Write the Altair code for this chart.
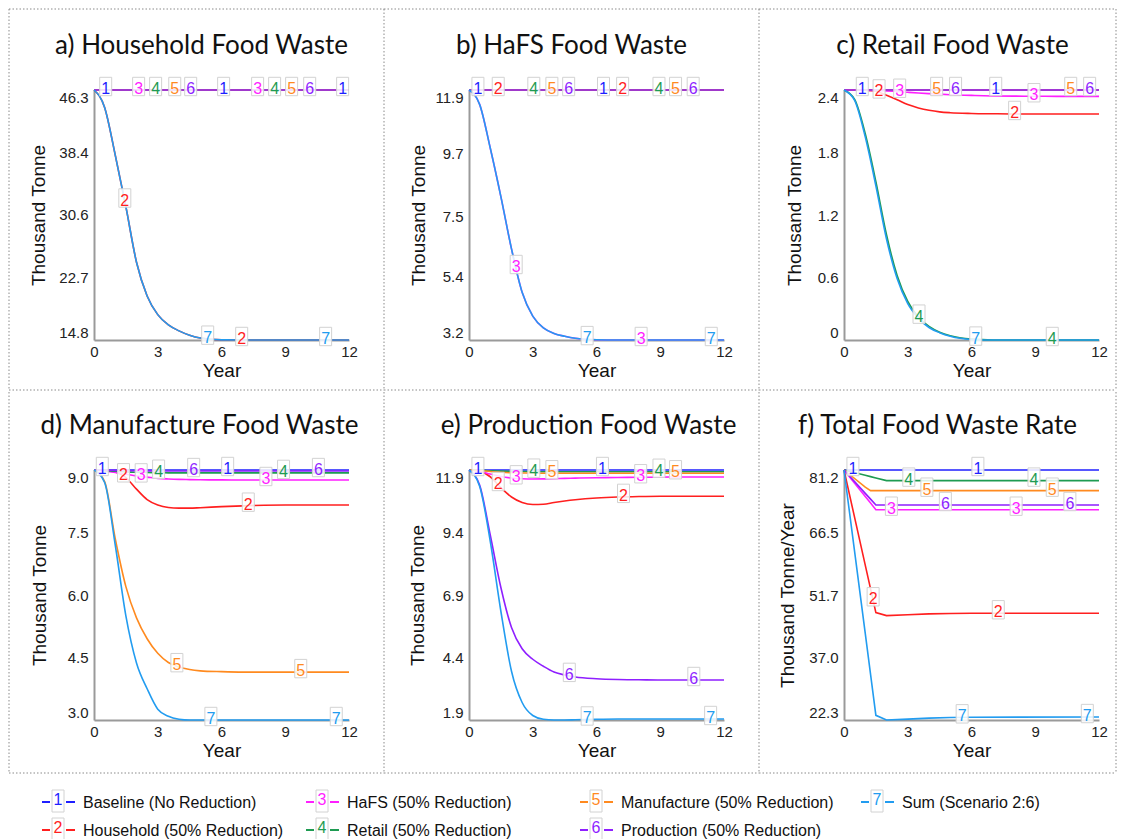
import altair as alt
import numpy as np
import pandas as pd

# ---------------- data ----------------
YEARS = [0, 0.5, 1, 1.5, 2, 2.5, 3, 3.5, 4, 4.5, 5, 6, 7, 8, 9, 10, 11, 12]
RATE_YEARS = [0, 1, 1.25, 1.5, 2, 3, 4, 5, 6, 12]

SCENARIOS = ["Baseline (No Reduction)", "Household (50% Reduction)", "HaFS (50% Reduction)",
             "Retail (50% Reduction)", "Manufacture (50% Reduction)", "Production  (50% Reduction)",
             "Sum (Scenario 2:6)"]
NUMBERS = ["1", "2", "3", "4", "5", "6", "7"]
COLORS = ["#1f1fff", "#ff1f1f", "#ff1fff", "#1e9b52", "#ff8a1f", "#8f1fff", "#229cf0"]

# a) Household food waste (thousand tonne)
A1 = [46.3, 46.3, 46.3, 46.3, 46.3, 46.3, 46.3, 46.3, 46.3, 46.3, 46.3, 46.3, 46.3, 46.3, 46.3, 46.3, 46.3, 46.3]
A2 = [46.3, 44.1, 38.1, 31.6, 24.6, 20.35, 18.0, 16.7, 15.95, 15.4, 15.05, 14.82, 14.8, 14.8, 14.8, 14.8, 14.8, 14.8]
A3 = [46.3, 46.3, 46.3, 46.3, 46.3, 46.3, 46.3, 46.3, 46.3, 46.3, 46.3, 46.3, 46.3, 46.3, 46.3, 46.3, 46.3, 46.3]
A4 = [46.3, 46.3, 46.3, 46.3, 46.3, 46.3, 46.3, 46.3, 46.3, 46.3, 46.3, 46.3, 46.3, 46.3, 46.3, 46.3, 46.3, 46.3]
A5 = [46.3, 46.3, 46.3, 46.3, 46.3, 46.3, 46.3, 46.3, 46.3, 46.3, 46.3, 46.3, 46.3, 46.3, 46.3, 46.3, 46.3, 46.3]
A6 = [46.3, 46.3, 46.3, 46.3, 46.3, 46.3, 46.3, 46.3, 46.3, 46.3, 46.3, 46.3, 46.3, 46.3, 46.3, 46.3, 46.3, 46.3]
A7 = [46.3, 44.1, 38.1, 31.6, 24.6, 20.35, 18.0, 16.7, 15.95, 15.4, 15.05, 14.82, 14.8, 14.8, 14.8, 14.8, 14.8, 14.8]

# b) HaFS food waste
B1 = [11.9, 11.9, 11.9, 11.9, 11.9, 11.9, 11.9, 11.9, 11.9, 11.9, 11.9, 11.9, 11.9, 11.9, 11.9, 11.9, 11.9, 11.9]
B2 = [11.9, 11.9, 11.9, 11.9, 11.9, 11.9, 11.9, 11.9, 11.9, 11.9, 11.9, 11.9, 11.9, 11.9, 11.9, 11.9, 11.9, 11.9]
B3 = [11.9, 11.4, 9.88, 8.19, 6.37, 4.86, 4.03, 3.62, 3.43, 3.33, 3.26, 3.21, 3.2, 3.2, 3.2, 3.2, 3.2, 3.2]
B4 = [11.9, 11.9, 11.9, 11.9, 11.9, 11.9, 11.9, 11.9, 11.9, 11.9, 11.9, 11.9, 11.9, 11.9, 11.9, 11.9, 11.9, 11.9]
B5 = [11.9, 11.9, 11.9, 11.9, 11.9, 11.9, 11.9, 11.9, 11.9, 11.9, 11.9, 11.9, 11.9, 11.9, 11.9, 11.9, 11.9, 11.9]
B6 = [11.9, 11.9, 11.9, 11.9, 11.9, 11.9, 11.9, 11.9, 11.9, 11.9, 11.9, 11.9, 11.9, 11.9, 11.9, 11.9, 11.9, 11.9]
B7 = [11.9, 11.4, 9.88, 8.19, 6.37, 4.86, 4.03, 3.62, 3.43, 3.33, 3.26, 3.21, 3.2, 3.2, 3.2, 3.2, 3.2, 3.2]

# c) Retail food waste
C1 = [2.4, 2.4, 2.4, 2.4, 2.4, 2.4, 2.4, 2.4, 2.4, 2.4, 2.4, 2.4, 2.4, 2.4, 2.4, 2.4, 2.4, 2.4]
C2 = [2.4, 2.4, 2.397, 2.388, 2.35, 2.307, 2.26, 2.228, 2.205, 2.19, 2.182, 2.175, 2.172, 2.17, 2.17, 2.17, 2.17, 2.17]
C3 = [2.4, 2.4, 2.398, 2.394, 2.39, 2.385, 2.378, 2.371, 2.365, 2.36, 2.355, 2.348, 2.343, 2.341, 2.34, 2.339, 2.339, 2.339]
C4 = [2.4, 2.31, 1.98, 1.52, 1.01, 0.62, 0.37, 0.22, 0.13, 0.075, 0.04, 0.008, 0.0, 0.0, 0.0, 0.0, 0.0, 0.0]
C5 = [2.4, 2.4, 2.4, 2.4, 2.4, 2.4, 2.4, 2.4, 2.4, 2.4, 2.4, 2.4, 2.4, 2.4, 2.4, 2.4, 2.4, 2.4]
C6 = [2.4, 2.4, 2.4, 2.4, 2.4, 2.4, 2.4, 2.4, 2.4, 2.4, 2.4, 2.4, 2.4, 2.4, 2.4, 2.4, 2.4, 2.4]
C7 = [2.4, 2.30, 1.95, 1.48, 0.97, 0.59, 0.35, 0.21, 0.12, 0.07, 0.035, 0.005, 0.0, 0.0, 0.0, 0.0, 0.0, 0.0]

# d) Manufacture food waste
D1 = [9.0, 9.0, 9.0, 9.0, 9.0, 9.0, 9.0, 9.0, 9.0, 9.0, 9.0, 9.0, 9.0, 9.0, 9.0, 9.0, 9.0, 9.0]
D2 = [9.0, 8.99, 8.95, 8.82, 8.54, 8.29, 8.16, 8.10, 8.085, 8.085, 8.095, 8.12, 8.14, 8.155, 8.16, 8.16, 8.16, 8.16]
D3 = [9.0, 8.98, 8.94, 8.9, 8.86, 8.83, 8.8, 8.785, 8.775, 8.77, 8.765, 8.762, 8.76, 8.76, 8.76, 8.76, 8.76, 8.76]
D4 = [9.0, 8.99, 8.97, 8.955, 8.945, 8.94, 8.935, 8.932, 8.93, 8.93, 8.93, 8.93, 8.93, 8.93, 8.93, 8.93, 8.93, 8.93]
D5 = [9.0, 8.72, 7.35, 6.2, 5.45, 4.95, 4.6, 4.38, 4.27, 4.21, 4.18, 4.16, 4.15, 4.15, 4.15, 4.15, 4.15, 4.15]
D6 = [9.0, 8.995, 8.99, 8.985, 8.98, 8.978, 8.976, 8.975, 8.975, 8.975, 8.975, 8.975, 8.975, 8.975, 8.975, 8.975, 8.975, 8.975]
D7 = [9.0, 8.7, 7.2, 5.5, 4.37, 3.75, 3.26, 3.09, 3.02, 3.0, 3.0, 3.0, 3.0, 3.0, 3.0, 3.0, 3.0, 3.0]

# e) Production food waste
E1 = [11.9, 11.9, 11.9, 11.9, 11.9, 11.9, 11.9, 11.9, 11.9, 11.9, 11.9, 11.9, 11.9, 11.9, 11.9, 11.9, 11.9, 11.9]
E2 = [11.9, 11.85, 11.63, 11.19, 10.82, 10.6, 10.52, 10.53, 10.6, 10.66, 10.71, 10.78, 10.82, 10.84, 10.85, 10.85, 10.85, 10.85]
E3 = [11.9, 11.85, 11.74, 11.64, 11.58, 11.55, 11.54, 11.545, 11.555, 11.565, 11.575, 11.59, 11.6, 11.61, 11.615, 11.62, 11.62, 11.62]
E4 = [11.9, 11.89, 11.87, 11.855, 11.845, 11.84, 11.835, 11.83, 11.83, 11.83, 11.83, 11.83, 11.83, 11.83, 11.83, 11.83, 11.83, 11.83]
E5 = [11.9, 11.88, 11.84, 11.81, 11.79, 11.78, 11.775, 11.77, 11.77, 11.77, 11.77, 11.77, 11.77, 11.77, 11.77, 11.77, 11.77, 11.77]
E6 = [11.9, 11.3, 9.3, 7.2, 5.6, 4.75, 4.33, 4.05, 3.82, 3.7, 3.62, 3.55, 3.52, 3.51, 3.5, 3.5, 3.5, 3.5]
E7 = [11.9, 11.25, 9.05, 6.25, 3.85, 2.6, 2.08, 1.93, 1.9, 1.9, 1.91, 1.93, 1.94, 1.94, 1.94, 1.94, 1.94, 1.94]

# f) Total food waste rate (thousand tonne / year), on RATE_YEARS
F1 = [81.2, 81.2, 81.2, 81.2, 81.2, 81.2, 81.2, 81.2, 81.2, 81.2]
F2 = [81.2, 58.8, 53.2, 47.6, 46.9, 47.1, 47.3, 47.4, 47.45, 47.45]
F3 = [81.2, 74.97, 73.41, 71.85, 71.85, 71.85, 71.85, 71.85, 71.85, 71.85]
F4 = [81.2, 79.95, 79.64, 79.32, 78.7, 78.7, 78.7, 78.7, 78.7, 78.7]
F5 = [81.2, 77.15, 76.33, 76.33, 76.33, 76.33, 76.33, 76.33, 76.33, 76.33]
F6 = [81.2, 75.7, 74.33, 72.95, 72.95, 72.95, 72.95, 72.95, 72.95, 72.95]
F7 = [81.2, 42.7, 33.05, 23.4, 22.3, 22.5, 22.75, 22.9, 22.95, 23.0]

# years at which the numbered line labels sit (series 1..7)
A_LABELS = [[0.55, 6.1, 11.7], [1.45, 6.95], [2.1, 7.7], [2.9, 8.5], [3.8, 9.3], [4.55, 10.15], [5.35, 10.9]]
B_LABELS = [[0.42, 6.33], [1.375, 7.23], [2.22, 8.1], [3.05, 8.94], [3.9, 9.72], [4.69, 10.55], [5.56, 11.4]]
C_LABELS = [[0.86, 7.14], [1.65, 8.03], [2.62, 8.94], [3.53, 9.8], [4.36, 10.67], [5.25, 11.56], [6.2]]
D_LABELS = [[0.39, 6.29], [1.39, 7.26], [2.22, 8.09], [3.04, 8.92], [3.9, 9.73], [4.69, 10.56], [5.5, 11.4]]
E_LABELS = [[0.42, 6.28], [1.375, 7.27], [2.22, 8.08], [3.05, 8.94], [3.9, 9.72], [4.72, 10.58], [5.56, 11.37]]
F_LABELS = [[0.42, 6.3], [1.37, 7.26], [2.23, 8.1], [3.05, 8.94], [3.9, 9.8], [4.77, 10.63], [5.56, 11.45]]

X_TICKS = [0, 3, 6, 9, 12]
A_TICKS = [14.8, 22.7, 30.6, 38.4, 46.3]
B_TICKS = [3.2, 5.4, 7.5, 9.7, 11.9]
C_TICKS = [0, 0.6, 1.2, 1.8, 2.4]
D_TICKS = [3.0, 4.5, 6.0, 7.5, 9.0]
E_TICKS = [1.9, 4.4, 6.9, 9.4, 11.9]
F_TICKS = [22.3, 37.0, 51.7, 66.5, 81.2]

# ---------------- styling ----------------
W, H = 255, 250
AXIS_FONT = "Liberation Sans"
BORDER = dict(color="#8a8a8a", strokeWidth=1, strokeDash=[1.5, 2])
BOX_PATH = "M-6,-12.7L6,-12.7L6,5.7L-6,5.7Z"
ONE = pd.DataFrame({"k": [0]})
LABEL_EXPR = "datum.value == 0 ? '0' : format(datum.value, '.1f')"
NO_VIEW = alt.ViewBackground(stroke="transparent", strokeWidth=0, fill="transparent")

color_enc = alt.Color("num:N", scale=alt.Scale(domain=NUMBERS, range=COLORS), legend=None)


def vline(x, y1, y2):
    return alt.Chart(ONE).mark_rule(**BORDER).encode(
        x=alt.value(x), y=alt.value(y1), y2=alt.value(y2))


def hline(x1, x2, y):
    return alt.Chart(ONE).mark_rule(**BORDER).encode(
        x=alt.value(x1), x2=alt.value(x2), y=alt.value(y))


def panel(title, years, series, label_years, ticks, ytitle, interp, title_dx, ytitle_x, borders):
    recs = []
    for num, vals in zip(NUMBERS, series):
        for t, v in zip(years, vals):
            recs.append({"year": t, "value": v, "num": num})
    lines_df = pd.DataFrame(recs)
    labs = []
    for num, vals, lys in zip(NUMBERS, series, label_years):
        for t in lys:
            labs.append({"year": t, "value": float(np.interp(t, years, vals)), "num": num})
    labels_df = pd.DataFrame(labs)

    x = alt.X("year:Q", scale=alt.Scale(domain=[0, 12], nice=False, zero=False),
              axis=alt.Axis(values=X_TICKS, title="Year", grid=False, ticks=False, labelFlush=False,
                            domainColor="#9a9a9a", domainWidth=2,
                            labelFont=AXIS_FONT, labelFontSize=15, labelColor="#222",
                            labelPadding=4, titleFont=AXIS_FONT, titleFontSize=19,
                            titleFontWeight="normal", titleColor="#111", titlePadding=2))
    y = alt.Y("value:Q", scale=alt.Scale(domain=[ticks[0], ticks[-1]], nice=False, zero=False),
              axis=alt.Axis(values=ticks, title=ytitle, grid=False, ticks=False,
                            domainColor="#9a9a9a", domainWidth=2, labelFlush=True,
                            labelExpr=LABEL_EXPR,
                            labelFont=AXIS_FONT, labelFontSize=15, labelColor="#222", labelPadding=6,
                            titleFont=AXIS_FONT, titleFontSize=19, titleFontWeight="normal",
                            titleColor="#111", titleX=ytitle_x, titleBaseline="middle"))

    title_mark = alt.Chart(ONE).mark_text(
        text=title, font="Lato", fontSize=26, color="#111", align="center",
        baseline="alphabetic").encode(x=alt.value(W / 2 + title_dx), y=alt.value(-36))
    lines = alt.Chart(lines_df).mark_line(interpolate=interp, strokeWidth=1.6).encode(
        x=x, y=y, color=color_enc)
    boxes = alt.Chart(labels_df).mark_point(
        shape=BOX_PATH, size=4, filled=True, fill="white", fillOpacity=0.85,
        stroke="#d2d2d2", strokeWidth=1, opacity=1).encode(x=x, y=y)
    texts = alt.Chart(labels_df).mark_text(
        font=AXIS_FONT, fontSize=16, baseline="alphabetic", dy=4).encode(
        x=x, y=y, text="num:N", color=color_enc)

    layers = list(borders) + [title_mark, lines, boxes, texts]
    return alt.layer(*layers).properties(width=W, height=H, view=NO_VIEW)


T1, B1Y = -81, 300     # row 1 border extents (relative to plot)
T2, B2Y = -78, 303     # row 2
RIGHT = 272

pa = panel("a) Household Food Waste", YEARS, [A1, A2, A3, A4, A5, A6, A7], A_LABELS, A_TICKS,
           "Thousand Tonne", "monotone", -20, -56,
           [vline(-85, T1, B1Y), vline(290, T1, B1Y), hline(-85, 290, T1), hline(-85, 290, B1Y)])
pb = panel("b) HaFS Food Waste", YEARS, [B1, B2, B3, B4, B5, B6, B7], B_LABELS, B_TICKS,
           "Thousand Tonne", "monotone", -25, -51,
           [hline(-85, 290, T1), hline(-85, 290, B1Y)])
pc = panel("c) Retail Food Waste", YEARS, [C1, C2, C3, C4, C5, C6, C7], C_LABELS, C_TICKS,
           "Thousand Tonne", "monotone", -19, -50,
           [vline(-85, T1, B1Y), vline(RIGHT, T1, B1Y), hline(-85, RIGHT, T1), hline(-85, RIGHT, B1Y)])
pd_ = panel("d) Manufacture Food Waste", YEARS, [D1, D2, D3, D4, D5, D6, D7], D_LABELS, D_TICKS,
            "Thousand Tonne", "monotone", -22, -55,
            [vline(-85, T2, B2Y), vline(290, T2, B2Y), hline(-85, 290, B2Y)])
pe = panel("e) Production Food Waste", YEARS, [E1, E2, E3, E4, E5, E6, E7], E_LABELS, E_TICKS,
           "Thousand Tonne", "monotone", -8, -52,
           [hline(-85, 290, B2Y)])
pf = panel("f) Total Food Waste Rate", RATE_YEARS, [F1, F2, F3, F4, F5, F6, F7], F_LABELS, F_TICKS,
           "Thousand Tonne/Year", "linear", -34, -57,
           [vline(-85, T2, B2Y), vline(RIGHT, T2, B2Y), hline(-85, RIGHT, B2Y)])

row1 = alt.hconcat(pa, pb, pc, spacing=120, bounds="flush")
row2 = alt.hconcat(pd_, pe, pf, spacing=120, bounds="flush")

# ---------------- legend ----------------
# legend origin sits under the left edge of panel a's plot
leg_df = pd.DataFrame({"name": SCENARIOS, "num": NUMBERS,
                       "col": [i // 2 for i in range(len(NUMBERS))],
                       "row": [i % 2 for i in range(len(NUMBERS))]})
lx = alt.X("col:Q", scale=alt.Scale(domain=[0, 1, 2, 3], range=[-36, 228, 502, 783]), axis=None)
ly = alt.Y("row:Q", scale=alt.Scale(domain=[0, 1], range=[28, 56]), axis=None)
leg_dash = alt.Chart(leg_df).mark_point(shape="M-16,0L-8,0M8,0L17,0", size=4, filled=False,
                                        strokeWidth=2, opacity=1).encode(x=lx, y=ly, color=color_enc)
leg_box = alt.Chart(leg_df).mark_point(shape="M-6,-12L6,-12L6,10L-6,10Z", size=4, filled=True,
                                       fill="white", stroke="#d2d2d2", strokeWidth=1,
                                       opacity=1).encode(x=lx, y=ly)
leg_num = alt.Chart(leg_df).mark_text(font=AXIS_FONT, fontSize=16, baseline="alphabetic", dy=3).encode(
    x=lx, y=ly, text="num:N", color=color_enc)
leg_txt = alt.Chart(leg_df).mark_text(font=AXIS_FONT, fontSize=16, align="left", baseline="alphabetic",
                                      dx=25, dy=6, color="#111").encode(x=lx, y=ly, text="name:N")
legend = alt.layer(leg_dash, leg_box, leg_num, leg_txt).properties(width=900, height=60, view=NO_VIEW)

chart = alt.vconcat(row1, row2, legend, spacing=0, padding=0).configure_view(
    stroke="transparent", strokeWidth=0).configure(font=AXIS_FONT)

chart.save("out.html", embed_options={"renderer": "svg", "actions": False})
